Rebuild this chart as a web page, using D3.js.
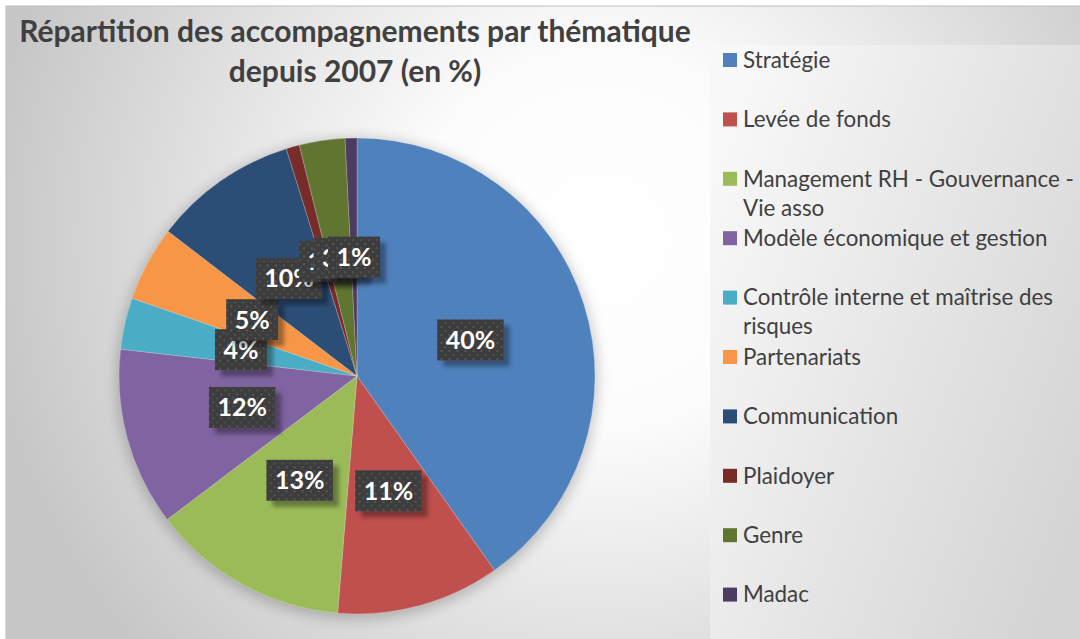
<!DOCTYPE html>
<html><head><meta charset="utf-8">
<script src="https://cdn.jsdelivr.net/npm/d3@7"></script>
<style>html,body{margin:0;padding:0;background:#fff;}svg{display:block;}</style>
</head><body>
<script>
const categories = ["Stratégie","Levée de fonds","Management RH - Gouvernance - Vie asso","Modèle économique et gestion","Contrôle interne et maîtrise des risques","Partenariats","Communication","Plaidoyer","Genre","Madac"];
const values = [40.2, 11.1, 13.4, 12.1, 3.5, 5.1, 9.8, 0.9, 3.1, 0.8];
const colors = ["#4F81BD","#C0504D","#9BBB59","#8064A2","#4BACC6","#F79646","#2C4D75","#772C2A","#5F7530","#4D3B62"];
const titleLines = ["Répartition des accompagnements par thématique","depuis 2007 (en %)"];

const W = 1080, H = 639;
const svg = d3.select("body").append("svg").attr("width", W).attr("height", H);
const defs = svg.append("defs");

const bg = defs.append("radialGradient").attr("id","bg").attr("gradientUnits","userSpaceOnUse")
  .attr("cx",600).attr("cy",240).attr("r",620);
bg.append("stop").attr("offset",0).attr("stop-color","#ffffff");
bg.append("stop").attr("offset",0.3).attr("stop-color","#fcfcfc");
bg.append("stop").attr("offset",1).attr("stop-color","#c6c6c6");

const lg = defs.append("linearGradient").attr("id","lg").attr("x1",0).attr("y1",0.2).attr("x2",1).attr("y2",0.8);
lg.append("stop").attr("offset",0).attr("stop-color","#f8f8f8");
lg.append("stop").attr("offset",1).attr("stop-color","#d4d4d4");

const pat = defs.append("pattern").attr("id","dots").attr("patternUnits","userSpaceOnUse").attr("width",8).attr("height",8);
pat.append("rect").attr("width",8).attr("height",8).attr("fill","#3e3e3e");
pat.append("rect").attr("x",2).attr("y",2).attr("width",2).attr("height",2).attr("fill","#575757");
pat.append("rect").attr("x",6).attr("y",6).attr("width",2).attr("height",2).attr("fill","#4f4f4f");

const sh = defs.append("filter").attr("id","boxsh").attr("x","-30%").attr("y","-30%").attr("width","160%").attr("height","160%");
sh.append("feDropShadow").attr("dx",6).attr("dy",6).attr("stdDeviation",2).attr("flood-color","#000").attr("flood-opacity",0.35);

const psh = defs.append("filter").attr("id","piesh").attr("x","-20%").attr("y","-20%").attr("width","140%").attr("height","140%");
psh.append("feGaussianBlur").attr("stdDeviation",7);

// chart background
svg.append("rect").attr("x",6).attr("y",6).attr("width",W).attr("height",H).attr("fill","url(#bg)").attr("stroke","#bdbdbd");
// legend box
svg.append("rect").attr("x",710).attr("y",45).attr("width",W-710).attr("height",H-45).attr("fill","url(#lg)");

// title
const title = svg.append("text").attr("text-anchor","middle").attr("fill","#404040")
  .style("font-family","Lato, 'Open Sans', sans-serif").style("font-weight","bold").style("font-size","30px");
titleLines.forEach((t,i)=> title.append("tspan").attr("x",355).attr("y",42+i*40).text(t));

// pie
const cx = 357, cy = 376, R = 238;
const pie = d3.pie().sort(null).value(d=>d.v);
const data = categories.map((c,i)=>({c, v: values[i], col: colors[i]}));
const arcs = pie(data);
const total = d3.sum(values);
const arc = d3.arc().innerRadius(0).outerRadius(R);
const g = svg.append("g").attr("transform",`translate(${cx},${cy})`);
g.append("circle").attr("r",R+2).attr("cy",3).attr("fill","#000").attr("opacity",0.22).attr("filter","url(#piesh)");
g.selectAll("path.slice").data(arcs).join("path").attr("class","slice")
  .attr("d",arc).attr("fill",d=>d.data.col).attr("stroke","#ffffff").attr("stroke-opacity",0.35).attr("stroke-width",0.6);

const lblArc = d3.arc().innerRadius(0).outerRadius(R);
const lbl = g.selectAll("g.lbl").data(arcs).join("g").attr("class","lbl")
  .attr("transform",d=>{const [x,y]=lblArc.centroid(d); return `translate(${x},${y})`;});
lbl.each(function(d){
  const s = d3.select(this);
  const r = s.append("rect");
  const t = s.append("text").attr("text-anchor","middle").attr("dy","0.36em").attr("fill","#fff")
    .style("font-family","Lato, 'Open Sans', sans-serif").style("font-weight","bold").style("font-size","25px")
    .text(Math.round(d.data.v*100/total)+"%");
  const w = t.node().getComputedTextLength()+17, h = 41;
  r.attr("x",-w/2).attr("y",-h/2).attr("width",w).attr("height",h).attr("fill","url(#dots)").attr("filter","url(#boxsh)");
});

// legend
const legX = 723, legY0 = 60, step = 59.4, maxW = 340;
const leg = svg.append("g");
data.forEach((d,i)=>{
  const y = legY0 + i*step;
  leg.append("rect").attr("x",legX).attr("y",y-7).attr("width",14).attr("height",14).attr("fill",d.col);
  const t = leg.append("text").attr("fill","#404040")
    .style("font-family","Lato, 'Open Sans', sans-serif").style("font-size","22.4px");
  const words = d.c.split(" ");
  let line = [], lineNo = 0;
  let ts = t.append("tspan").attr("x",legX+20).attr("y",y).attr("dy","0.35em");
  words.forEach(wd=>{
    line.push(wd); ts.text(line.join(" "));
    if (ts.node().getComputedTextLength() > maxW && line.length>1){
      line.pop(); ts.text(line.join(" "));
      line=[wd]; lineNo++;
      ts = t.append("tspan").attr("x",legX+20).attr("y",y+lineNo*29).attr("dy","0.35em").text(wd);
    }
  });
});
</script>
</body></html>
